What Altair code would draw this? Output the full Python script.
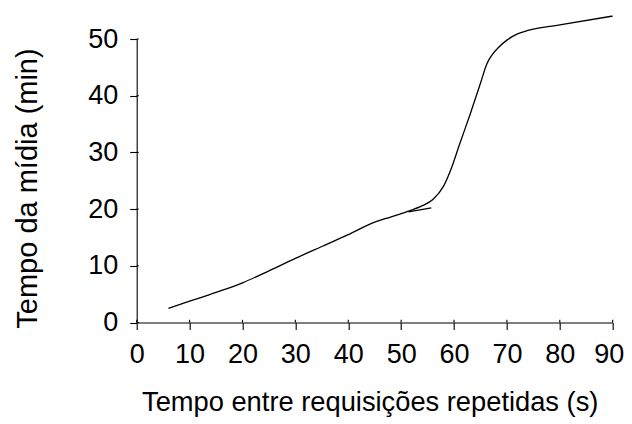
import altair as alt
import pandas as pd

# Main curve
x_main = [6, 10, 15, 20, 25, 30, 35, 40, 45, 48, 51, 54, 56, 58, 59.5, 61, 63, 65, 66.2, 67.2, 68.5, 70, 72, 74, 80, 90]
y_main = [2.5, 3.75, 5.3, 7.0, 9.1, 11.3, 13.4, 15.5, 17.7, 18.6, 19.5, 20.6, 21.7, 24.0, 27.2, 31.3, 36.6, 42.2, 45.6, 47.2, 48.6, 49.8, 50.9, 51.5, 52.5, 54.05]

# Short extra segment
x_seg = [51.4, 55.7]
y_seg = [19.5, 20.2]

x_ticks = [0, 10, 20, 30, 40, 50, 60, 70, 80, 90]
y_ticks = [0, 10, 20, 30, 40, 50]

x_title = "Tempo entre requisições repetidas (s)"
y_title = "Tempo da mídia (min)"

W = 476
H = 283.5
FONT = "Liberation Sans"

df = pd.DataFrame({"x": x_main + x_seg,
                   "y": y_main + y_seg,
                   "s": ["main"] * len(x_main) + ["seg"] * len(x_seg),
                   "o": list(range(len(x_main))) + list(range(len(x_seg)))})

xs = alt.Scale(domain=[0, 90], nice=False, zero=False)
ys = alt.Scale(domain=[0, 50], nice=False, zero=False)

x_axis = alt.Axis(values=x_ticks, title=x_title, grid=False,
                  tickSize=7, labelPadding=33.5, labelBaseline="alphabetic",
                  labelFontSize=27, titleFontSize=27.3,
                  titleBaseline="alphabetic", titleY=88.5, titleX=233,
                  labelOffset={"expr": "datum.value == 90 ? -4 : 0"},
                  labelFlush=False)
y_axis = alt.Axis(values=y_ticks, title=y_title, grid=False,
                  tickSize=7, labelPadding=12,
                  labelFontSize=27, titleFontSize=29,
                  titleX=-94, titleY=149, titleBaseline="bottom",
                  labelFlush=False)

line = alt.Chart(df).mark_line(color="black", strokeWidth=1.3, interpolate="monotone").encode(
    x=alt.X("x:Q", scale=xs, axis=x_axis, title=x_title),
    y=alt.Y("y:Q", scale=ys, axis=y_axis, title=y_title),
    detail="s:N",
    order="o:Q",
)

xt = alt.Chart(pd.DataFrame({"t": x_ticks})).mark_rule(color="black", strokeWidth=1.1).encode(
    x=alt.X("t:Q", scale=xs, axis=x_axis, title=x_title),
    y=alt.value(H), y2=alt.value(H - 2.7),
)
yt = alt.Chart(pd.DataFrame({"t": y_ticks})).mark_rule(color="black", strokeWidth=1.1).encode(
    y=alt.Y("t:Q", scale=ys, axis=y_axis, title=y_title),
    x=alt.value(0), x2=alt.value(2),
)

chart = alt.layer(line, xt, yt).properties(
    width=W, height=H,
    autosize=alt.AutoSizeParams(type="none"),
    padding={"left": 128.7, "top": 31, "right": 11, "bottom": 94},
).configure_axis(
    domainColor="black", tickColor="black", labelColor="black", titleColor="black",
    domainWidth=1.1, tickWidth=1.1,
    labelFont=FONT, titleFont=FONT, titleFontWeight="normal",
).configure_view(stroke=None)

chart.save("out.html", embed_options={"renderer": "svg", "actions": False})
